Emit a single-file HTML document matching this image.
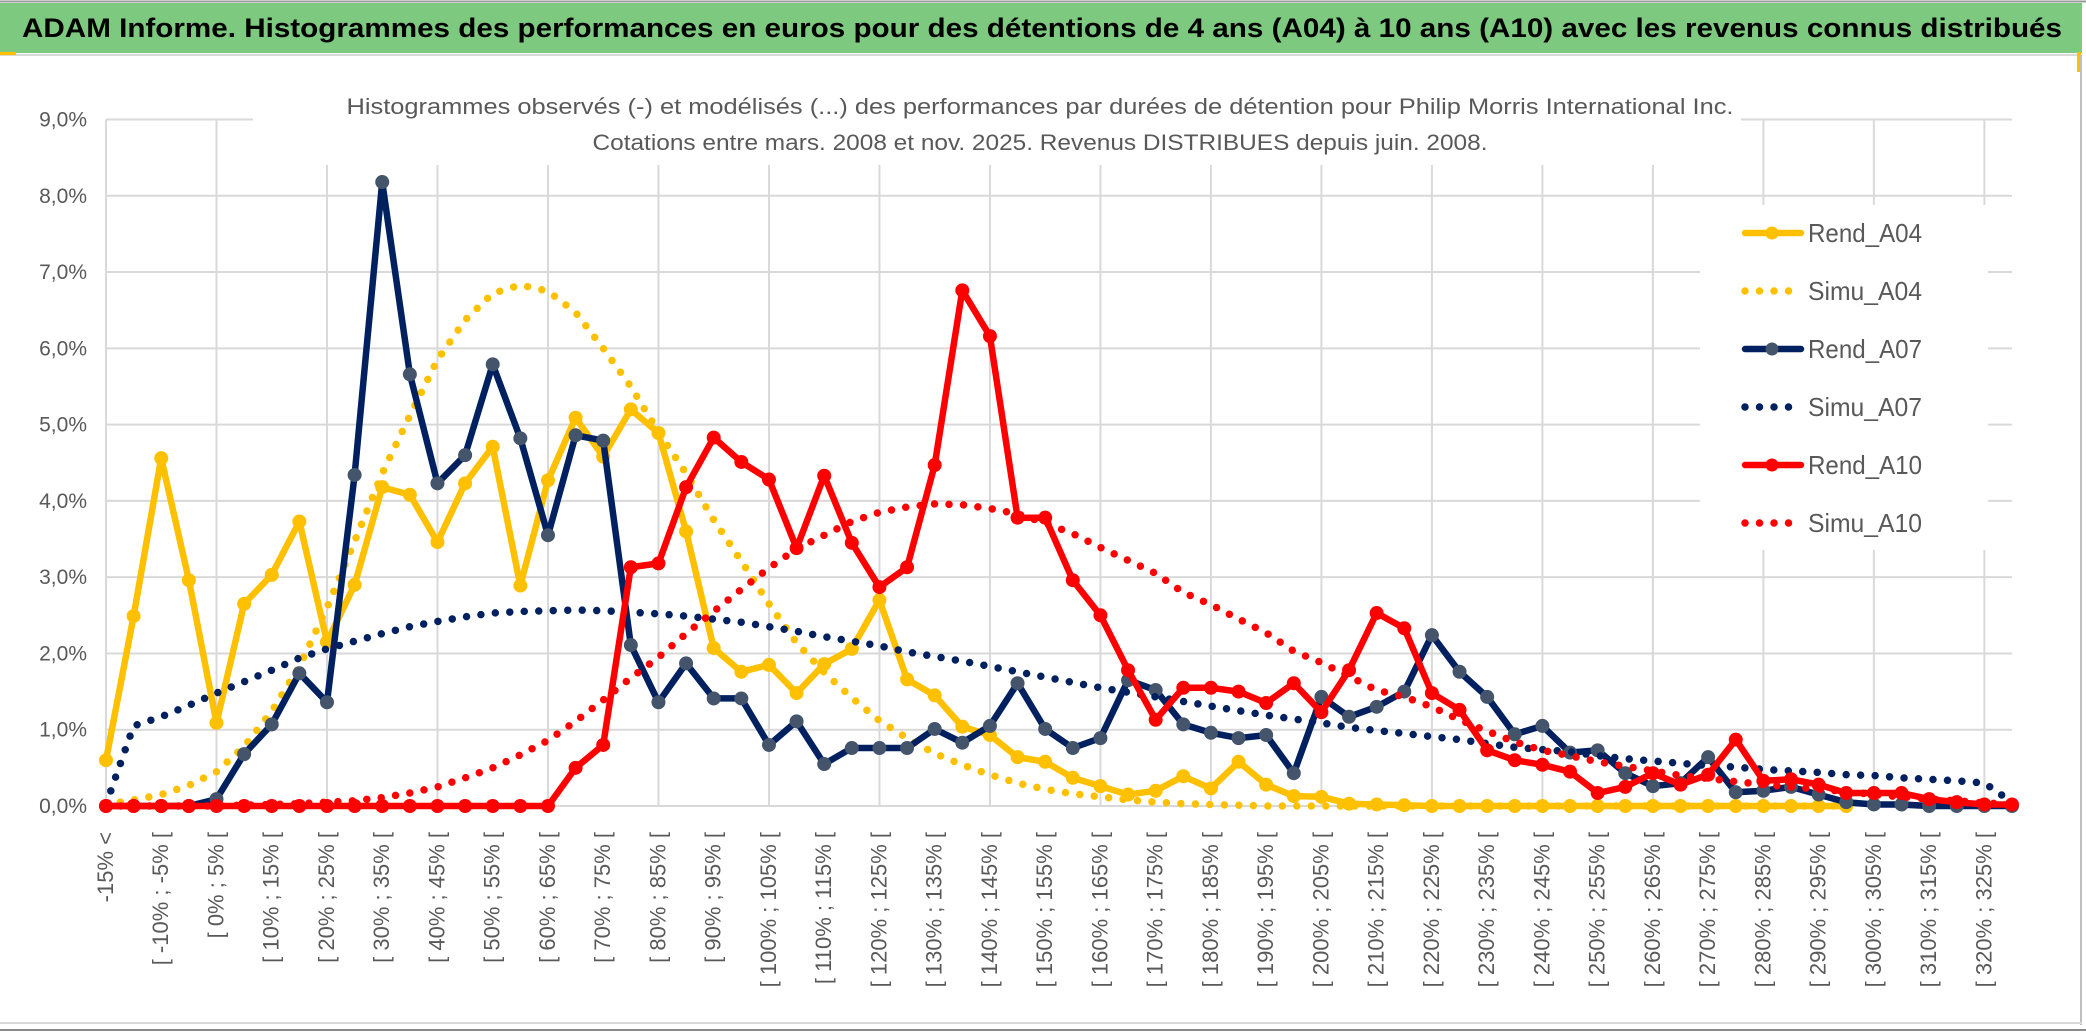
<!DOCTYPE html>
<html><head><meta charset="utf-8">
<style>
html,body{margin:0;padding:0;background:#fff;}
svg{display:block;font-family:"Liberation Sans",sans-serif;}
</style></head>
<body>
<svg id="chart" width="2086" height="1033" viewBox="0 0 2086 1033" xmlns="http://www.w3.org/2000/svg">
  <rect x="0" y="0" width="2086" height="1033" fill="#fff"/>
  <line x1="0" y1="1.5" x2="2086" y2="1.5" stroke="#9a9a9a" stroke-width="2"/>
  <rect x="0" y="3" width="2082" height="50" fill="#7DC97F"/>
  <line x1="0" y1="55" x2="2080" y2="55" stroke="#d9d9d9" stroke-width="2"/>
  <rect x="0" y="52" width="16" height="3" fill="#FFC000"/>
  <rect x="2077" y="52" width="4" height="20" fill="#FFC000"/>
  <text x="22" y="37" font-size="27" font-weight="bold" fill="#000" textLength="2040" lengthAdjust="spacingAndGlyphs">ADAM Informe. Histogrammes des performances en euros pour des détentions de 4 ans (A04) à 10 ans (A10) avec les revenus connus distribués</text>
  <line x1="2081" y1="55" x2="2081" y2="1025" stroke="#bfbfbf" stroke-width="2"/>
  <line x1="0" y1="1023" x2="2082" y2="1023" stroke="#d9d9d9" stroke-width="2"/>
  <line x1="0" y1="1030" x2="2086" y2="1030" stroke="#8a8a8a" stroke-width="2"/>
  <g id="grid"></g>
  <rect x="253" y="72" width="1488" height="93" fill="#fff"/>
  <text x="1040" y="114" font-size="22" fill="#595959" text-anchor="middle" textLength="1387" lengthAdjust="spacingAndGlyphs">Histogrammes observés (-) et modélisés (...) des performances par durées de détention pour Philip Morris International Inc.</text>
  <text x="1040" y="150" font-size="22" fill="#595959" text-anchor="middle" textLength="895" lengthAdjust="spacingAndGlyphs">Cotations entre mars. 2008 et nov. 2025. Revenus DISTRIBUES depuis juin. 2008.</text>
  <g id="yaxis"></g>
  <g id="xaxis"></g>
  <g id="series"></g>
  <rect x="1700" y="205" width="288" height="345" fill="#fff"/>
  <g id="legend"></g>
</svg>
<script>
const categories = ["-15% <","[ -15% ; -10% [","[ -10% ; -5% [","[ -5% ; 0% [","[ 0% ; 5% [","[ 5% ; 10% [","[ 10% ; 15% [","[ 15% ; 20% [","[ 20% ; 25% [","[ 25% ; 30% [",
"[ 30% ; 35% [","[ 35% ; 40% [","[ 40% ; 45% [","[ 45% ; 50% [","[ 50% ; 55% [","[ 55% ; 60% [","[ 60% ; 65% [","[ 65% ; 70% [","[ 70% ; 75% [","[ 75% ; 80% [",
"[ 80% ; 85% [","[ 85% ; 90% [","[ 90% ; 95% [","[ 95% ; 100% [","[ 100% ; 105% [","[ 105% ; 110% [","[ 110% ; 115% [","[ 115% ; 120% [","[ 120% ; 125% [","[ 125% ; 130% [",
"[ 130% ; 135% [","[ 135% ; 140% [","[ 140% ; 145% [","[ 145% ; 150% [","[ 150% ; 155% [","[ 155% ; 160% [","[ 160% ; 165% [","[ 165% ; 170% [","[ 170% ; 175% [","[ 175% ; 180% [",
"[ 180% ; 185% [","[ 185% ; 190% [","[ 190% ; 195% [","[ 195% ; 200% [","[ 200% ; 205% [","[ 205% ; 210% [","[ 210% ; 215% [","[ 215% ; 220% [","[ 220% ; 225% [","[ 225% ; 230% [",
"[ 230% ; 235% [","[ 235% ; 240% [","[ 240% ; 245% [","[ 245% ; 250% [","[ 250% ; 255% [","[ 255% ; 260% [","[ 260% ; 265% [","[ 265% ; 270% [","[ 270% ; 275% [","[ 275% ; 280% [",
"[ 280% ; 285% [","[ 285% ; 290% [","[ 290% ; 295% [","[ 295% ; 300% [","[ 300% ; 305% [","[ 305% ; 310% [","[ 310% ; 315% [","[ 315% ; 320% [","[ 320% ; 325% [","> 325%"];
const yTicks = [0,1,2,3,4,5,6,7,8,9];
const yTickLabels = ["0,0%","1,0%","2,0%","3,0%","4,0%","5,0%","6,0%","7,0%","8,0%","9,0%"];
const rendA04 = [0.6,2.49,4.56,2.96,1.09,2.65,3.03,3.73,2.15,2.9,
4.18,4.08,3.46,4.23,4.71,2.89,4.27,5.09,4.58,5.2,
4.89,3.6,2.07,1.76,1.85,1.48,1.86,2.06,2.7,1.66,
1.45,1.04,0.93,0.64,0.58,0.37,0.26,0.15,0.2,0.39,
0.23,0.58,0.28,0.13,0.12,0.03,0.02,0.01,0,0,
0,0,0,0,0,0,0,0,0,0,
0,0,0,0,null,null,null,null,null,null];
const simuA04 = [0.02,0.08,0.15,0.27,0.45,0.78,1.24,1.83,2.6,3.47,
4.36,5.12,5.85,6.37,6.72,6.83,6.75,6.47,6.0,5.5,
4.9,4.36,3.75,3.21,2.65,2.14,1.75,1.42,1.12,0.89,
0.69,0.54,0.41,0.3,0.22,0.16,0.12,0.08,0.05,0.03,
0.02,0.01,0,0,0,0,0,0,0,0,
0,0,0,0,0,0,0,0,0,0,
0,0,0,0,null,null,null,null,null,null];
const rendA07 = [0,0,0,0,0.09,0.68,1.07,1.74,1.36,4.34,
8.18,5.66,4.23,4.6,5.79,4.82,3.55,4.86,4.79,2.11,
1.36,1.87,1.41,1.41,0.8,1.11,0.55,0.76,0.76,0.76,
1.01,0.83,1.05,1.61,1.01,0.76,0.89,1.65,1.52,1.07,
0.96,0.89,0.93,0.43,1.43,1.17,1.3,1.5,2.24,1.76,
1.43,0.94,1.05,0.7,0.73,0.43,0.26,0.3,0.64,0.18,
0.2,0.25,0.15,0.05,0.02,0.02,0,0,0,0];
const simuA07 = [0.02,1.05,1.17,1.32,1.48,1.63,1.78,1.94,2.06,2.16,
2.26,2.35,2.42,2.48,2.53,2.55,2.56,2.57,2.56,2.54,
2.52,2.49,2.45,2.41,2.35,2.29,2.22,2.16,2.1,2.02,
1.96,1.9,1.83,1.76,1.69,1.62,1.55,1.49,1.43,1.37,
1.31,1.25,1.19,1.14,1.09,1.03,0.99,0.95,0.91,0.87,
0.82,0.77,0.74,0.71,0.66,0.62,0.59,0.56,0.53,0.51,
0.48,0.46,0.44,0.41,0.4,0.37,0.35,0.33,0.3,0.05];
const rendA10 = [0,0,0,0,0,0,0,0,0,0,
0,0,0,0,0,0,0,0.5,0.8,3.13,
3.18,4.18,4.83,4.51,4.28,3.38,4.33,3.45,2.87,3.13,
4.47,6.76,6.16,3.78,3.78,2.96,2.5,1.78,1.13,1.55,
1.55,1.5,1.35,1.61,1.23,1.78,2.53,2.33,1.48,1.26,
0.73,0.6,0.54,0.45,0.17,0.25,0.43,0.28,0.41,0.87,
0.33,0.35,0.28,0.17,0.17,0.17,0.09,0.05,0.02,0.02];
const simuA10 = [0,0,0,0,0,0.01,0.02,0.03,0.05,0.07,
0.11,0.17,0.25,0.37,0.5,0.67,0.86,1.11,1.39,1.68,
1.95,2.26,2.55,2.84,3.12,3.37,3.55,3.73,3.85,3.92,
3.96,3.95,3.9,3.83,3.71,3.57,3.39,3.22,3.05,2.8,
2.64,2.45,2.27,2.03,1.88,1.7,1.52,1.43,1.3,1.13,
0.98,0.84,0.73,0.66,0.58,0.52,0.46,0.4,0.36,0.32,
0.28,0.25,0.22,0.19,0.15,0.12,0.09,0.07,0.04,0.02];
const seriesNames = ["Rend_A04","Simu_A04","Rend_A07","Simu_A07","Rend_A10","Simu_A10"];

const NS = "http://www.w3.org/2000/svg";
const X0 = 106, X1 = 2012, Y0 = 806, Y9 = 119.5;
function xPos(i){ return X0 + i * (X1 - X0) / (categories.length - 1); }
function yPos(v){ return Y0 - v * (Y0 - Y9) / 9; }
function mk(tag, parent){ const e = document.createElementNS(NS, tag); parent.appendChild(e); return e; }

const grid = document.getElementById('grid');
yTicks.forEach(t => {
  const l = mk('line', grid);
  
  
  l.setAttribute('x1', X0); l.setAttribute('x2', X1);
  l.setAttribute('y1', yPos(t)); l.setAttribute('y2', yPos(t));
  l.setAttribute('stroke', '#d9d9d9'); l.setAttribute('stroke-width', '2');
});
for (let i = 0; i < categories.length; i += 4) {
  const l = mk('line', grid);
  
  
  l.setAttribute('x1', xPos(i)); l.setAttribute('x2', xPos(i));
  l.setAttribute('y1', yPos(9)); l.setAttribute('y2', Y0);
  l.setAttribute('stroke', '#d9d9d9'); l.setAttribute('stroke-width', '2');
}
const ya = document.getElementById('yaxis');
yTicks.forEach((t, k) => {
  const tx = mk('text', ya);
  
  
  tx.setAttribute('x', 87); tx.setAttribute('y', yPos(t) + 7);
  tx.setAttribute('text-anchor', 'end'); tx.setAttribute('font-size', '21');
  tx.setAttribute('fill', '#595959');
  tx.textContent = yTickLabels[k];
});
const xa = document.getElementById('xaxis');
categories.forEach((c, i) => {
  if (i % 2 !== 0) return;
  const tx = mk('text', xa);
  
  
  const x = xPos(i) + 7, y = 832;
  tx.setAttribute('x', x); tx.setAttribute('y', y);
  tx.setAttribute('transform', 'rotate(-90 ' + x + ' ' + y + ')');
  tx.setAttribute('text-anchor', 'end'); tx.setAttribute('font-size', '22');
  tx.setAttribute('fill', '#595959');
  tx.textContent = c;
});
const sg = document.getElementById('series');
function pathFor(arr){
  let d = '', pen = false;
  arr.forEach((v, i) => {
    if (v === null) { pen = false; return; }
    d += (pen ? 'L' : 'M') + xPos(i).toFixed(1) + ',' + yPos(v).toFixed(1);
    pen = true;
  });
  return d;
}
function solid(arr, color, markColor, name){
  const p = mk('path', sg);
  
  
  p.setAttribute('d', pathFor(arr)); p.setAttribute('fill', 'none');
  p.setAttribute('stroke', color); p.setAttribute('stroke-width', '6.5');
  p.setAttribute('stroke-linejoin', 'round'); p.setAttribute('stroke-linecap', 'round');
  arr.forEach((v, i) => {
    if (v === null) return;
    const c = mk('circle', sg);
    
    
    c.setAttribute('cx', xPos(i)); c.setAttribute('cy', yPos(v)); c.setAttribute('r', '7');
    c.setAttribute('fill', markColor);
  });
}
function dotted(arr, color, name){
  const p = mk('path', sg);
  
  
  p.setAttribute('d', pathFor(arr)); p.setAttribute('fill', 'none');
  p.setAttribute('stroke', color); p.setAttribute('stroke-width', '7.5');
  p.setAttribute('stroke-dasharray', '0 14.5'); p.setAttribute('stroke-linecap', 'round');
}
solid(rendA04, '#FFC000', '#FFC000', 'rend-a04');
dotted(simuA04, '#FFC000', 'simu-a04');
solid(rendA07, '#002060', '#44546A', 'rend-a07');
dotted(simuA07, '#002060', 'simu-a07');
solid(rendA10, '#FF0000', '#FF0000', 'rend-a10');
dotted(simuA10, '#FF0000', 'simu-a10');

const lg = document.getElementById('legend');
const legColors = ['#FFC000','#FFC000','#002060','#002060','#FF0000','#FF0000'];
const legMarks = ['#FFC000',null,'#44546A',null,'#FF0000',null];
seriesNames.forEach((n, k) => {
  const y = 233 + k * 58;
  const g = mk('g', lg);
  
  
  const l = mk('line', g);
  
  
  l.setAttribute('x1', 1745); l.setAttribute('x2', 1801);
  l.setAttribute('y1', y); l.setAttribute('y2', y);
  l.setAttribute('stroke', legColors[k]); l.setAttribute('stroke-linecap', 'round');
  if (legMarks[k]) {
    l.setAttribute('stroke-width', '6.5');
    const c = mk('circle', g);
    
    
    c.setAttribute('cx', 1772); c.setAttribute('cy', y); c.setAttribute('r', '6.5');
    c.setAttribute('fill', legMarks[k]);
  } else {
    l.setAttribute('stroke-width', '7.5');
    l.setAttribute('stroke-dasharray', '0 14.5');
  }
  const t = mk('text', g);
  
  
  t.setAttribute('x', 1808); t.setAttribute('y', y + 9);
  t.setAttribute('font-size', '26'); t.setAttribute('fill', '#595959');
  t.setAttribute('textLength', '114'); t.setAttribute('lengthAdjust', 'spacingAndGlyphs');
  t.textContent = n;
});
</script>
</body></html>
